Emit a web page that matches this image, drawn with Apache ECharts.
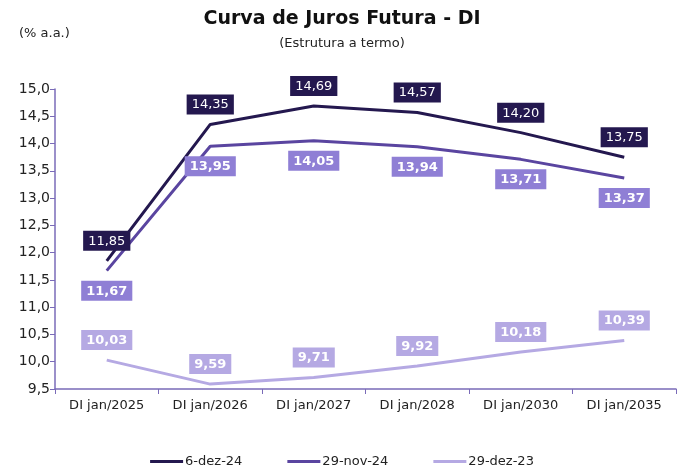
<!DOCTYPE html>
<html>
<head>
<meta charset="utf-8">
<script src="https://cdn.jsdelivr.net/npm/echarts@6/dist/echarts.min.js"></script>
<style>
  html, body { margin: 0; padding: 0; background: #fff; }
  #chart { width: 684px; height: 475px; }
</style>
</head>
<body>
<div id="chart"></div>
<script>
var categories = ['DI jan/2025', 'DI jan/2026', 'DI jan/2027', 'DI jan/2028', 'DI jan/2030', 'DI jan/2035'];
var dez24 = [11.85, 14.35, 14.69, 14.57, 14.20, 13.75];
var nov24 = [11.67, 13.95, 14.05, 13.94, 13.71, 13.37];
var dez23 = [10.03, 9.59, 9.71, 9.92, 10.18, 10.39];

var FONT = 'DejaVu Sans';
var fmt = function (v) { return v.toFixed(2).replace('.', ','); };

function makeSeries(name, data, color, labelBg, pos, bold) {
    return {
        name: name,
        type: 'line',
        data: data,
        symbol: 'circle',
        symbolSize: 0,
        lineStyle: { color: color, width: 3 },
        itemStyle: { color: color },
        label: {
            show: true,
            position: pos,
            distance: 10,
            formatter: function (p) { return fmt(p.value); },
            color: '#fff',
            fontFamily: FONT,
            fontSize: 13,
            fontWeight: bold ? 'bold' : 'normal',
            backgroundColor: labelBg,
            padding: [4, 5, 3, 5]
        }
    };
}

echarts.init(document.getElementById('chart')).setOption({
    animation: false,
    textStyle: { fontFamily: FONT },
    title: [{
        text: 'Curva de Juros Futura - DI',
        left: 'center',
        top: 5,
        textStyle: { fontSize: 19, fontWeight: 'bold', color: '#111', fontFamily: FONT }
    }, {
        text: '(Estrutura a termo)',
        left: 'center',
        top: 32,
        textStyle: { fontSize: 13, fontWeight: 'normal', color: '#222', fontFamily: FONT }
    }, {
        text: '(% a.a.)',
        left: 14,
        top: 22,
        textStyle: { fontSize: 13, fontWeight: 'normal', color: '#222', fontFamily: FONT }
    }],
    legend: {
        bottom: 2,
        left: 'center',
        itemGap: 45,
        itemWidth: 33,
        itemHeight: 3,
        icon: 'rect',
        textStyle: { fontSize: 13, color: '#222', fontFamily: FONT, padding: [0, 0, 0, -3] },
        data: ['6-dez-24', '29-nov-24', '29-dez-23']
    },
    grid: { left: 55, right: 8, top: 89, bottom: 86, containLabel: false },
    xAxis: {
        type: 'category',
        data: categories,
        boundaryGap: true,
        axisLine: { lineStyle: { color: '#7a6bb8', width: 1.5 } },
        axisTick: { show: true, interval: 0, length: 5, lineStyle: { color: '#7a6bb8' } },
        axisLabel: { interval: 0, color: '#222', fontSize: 13, fontFamily: FONT, margin: 10 }
    },
    yAxis: {
        type: 'value',
        min: 9.5,
        max: 15,
        interval: 0.5,
        splitLine: { show: false },
        axisLine: { show: true, lineStyle: { color: '#7a6bb8', width: 1.5 } },
        axisTick: { show: true, length: 5, lineStyle: { color: '#7a6bb8' } },
        axisLabel: {
            color: '#222', fontSize: 14, fontFamily: FONT, margin: 5,
            formatter: function (v) { return v.toFixed(1).replace('.', ','); }
        }
    },
    series: [
        makeSeries('6-dez-24', dez24, '#24184f', '#24184f', 'top', false),
        makeSeries('29-nov-24', nov24, '#5a45a0', '#8f7fd5', 'bottom', true),
        makeSeries('29-dez-23', dez23, '#b5a9e3', '#b5a9e3', 'top', true)
    ]
});
</script>
</body>
</html>
